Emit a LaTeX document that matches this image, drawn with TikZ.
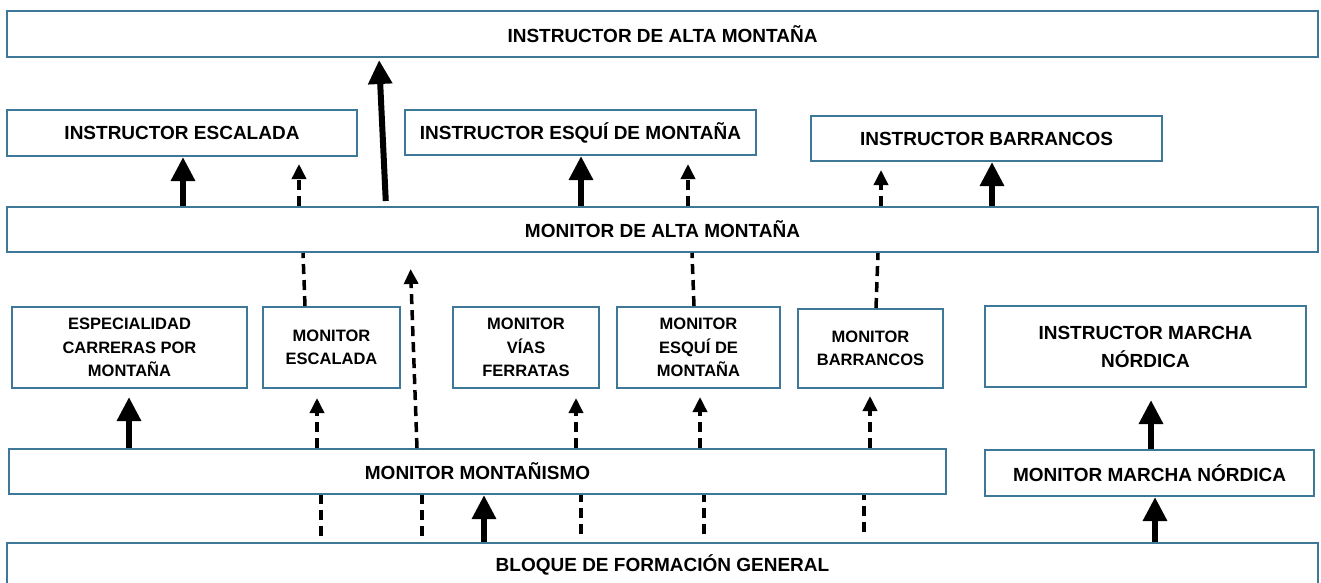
\documentclass[tikz,border=0pt]{standalone}
\usepackage{fontspec}
\setmainfont{Liberation Sans}
\usetikzlibrary{arrows.meta}
\definecolor{boxblue}{RGB}{62,120,152}
\newcommand\bigtxt{\fontsize{19}{28}\selectfont\bfseries}
\newcommand\smalltxt{\fontsize{16.5}{23.3}\selectfont\bfseries}
\begin{document}
\begin{tikzpicture}[
        x=1pt, y=-1pt,
        box/.style={draw=boxblue, line width=2pt, fill=white, inner sep=0pt, align=center, font=\bigtxt},
        small/.style={font=\smalltxt},
        fullarrow/.style={draw, line width=6pt, -{Triangle[width=23pt,length=24pt]}},
        dasharrow/.style={draw, line width=3.5pt, dash pattern=on 10pt off 6pt, -{Triangle[width=14pt,length=15pt]}},
        dashlink/.style={draw, line width=3.5pt, dash pattern=on 10pt off 6pt}
        ]
    \useasboundingbox (0,0) rectangle (1321,582);
    % top levels
    \node[box, minimum width=1311, minimum height=46] (iam) at (662.5,34) {INSTRUCTOR DE ALTA MONTAÑA};
    \node[box, minimum width=350, minimum height=46] (iesc) at (182,133) {INSTRUCTOR ESCALADA};
    \node[box, minimum width=351, minimum height=45] (iesq) at (580.5,132.5) {INSTRUCTOR ESQUÍ DE MONTAÑA};
    \node[box, minimum width=351, minimum height=45] (ibar) at (986.5,138.5) {INSTRUCTOR BARRANCOS};
    \node[box, minimum width=1311, minimum height=45] (mam) at (662.5,229.5) {MONITOR DE ALTA MONTAÑA};
    % specialities
    \node[box, small, minimum width=235, minimum height=81] (ecm) at (129.5,347.5) {ESPECIALIDAD\\CARRERAS POR\\MONTAÑA};
    \node[box, small, minimum width=137, minimum height=81] (mesc) at (331.5,347.5) {MONITOR\\ESCALADA};
    \node[box, small, minimum width=146, minimum height=81] (mvf) at (526,347.5) {MONITOR\\VÍAS\\FERRATAS};
    \node[box, small, minimum width=163, minimum height=81] (mesq) at (698.5,347.5) {MONITOR\\ESQUÍ DE\\MONTAÑA};
    \node[box, small, minimum width=145, minimum height=79] (mbar) at (870.5,348.5) {MONITOR\\BARRANCOS};
    \node[box, minimum width=321, minimum height=81] (imn) at (1145.5,346.5) {INSTRUCTOR MARCHA\\NÓRDICA};
    % base levels
    \node[box, minimum width=937, minimum height=45] (mmo) at (477.5,471.5) {MONITOR MONTAÑISMO};
    \node[box, minimum width=329, minimum height=46] (mmn) at (1149.5,473) {MONITOR MARCHA NÓRDICA};
    \node[box, minimum width=1311, minimum height=44] (bfg) at (662.5,565) {BLOQUE DE FORMACIÓN GENERAL};

    % monitor de alta montana -> instructors
    \path[fullarrow] (183,0 |- mam.north) -- (183,0 |- iesc.south);
    \path[dasharrow, shorten >=7pt] (299,0 |- mam.north) -- (299,0 |- iesc.south);
    \path[fullarrow, shorten <=5pt, shorten >=2pt] (386,0 |- mam.north) -- (379,0 |- iam.south);
    \path[fullarrow] (581,0 |- mam.north) -- (581,0 |- iesq.south);
    \path[dasharrow, shorten >=8pt] (688,0 |- mam.north) -- (688,0 |- iesq.south);
    \path[dasharrow, shorten >=8pt] (881,0 |- mam.north) -- (881,0 |- ibar.south);
    \path[fullarrow] (992,0 |- mam.north) -- (992,0 |- ibar.south);

    % specialities -> monitor de alta montana
    \path[dashlink] (305,0 |- mesc.north) -- (303,0 |- mam.south);
    \path[dashlink] (694,0 |- mesq.north) -- (692,0 |- mam.south);
    \path[dashlink] (876,0 |- mbar.north) -- (878,0 |- mam.south);
    \path[dasharrow, shorten >=16pt] (417,0 |- mmo.north) -- (410,0 |- mam.south);

    % monitor montanismo -> specialities
    \path[fullarrow, shorten >=8pt] (129,0 |- mmo.north) -- (129,0 |- ecm.south);
    \path[dasharrow, shorten >=9pt] (317,0 |- mmo.north) -- (317,0 |- mesc.south);
    \path[dasharrow, shorten >=9pt] (576,0 |- mmo.north) -- (576,0 |- mvf.south);
    \path[dasharrow, shorten >=8pt] (700,0 |- mmo.north) -- (700,0 |- mesq.south);
    \path[dasharrow, shorten >=7pt] (870,0 |- mmo.north) -- (870,0 |- mbar.south);
    \path[fullarrow, shorten >=12pt] (1151,0 |- mmn.north) -- (1151,0 |- imn.south);

    % bloque general -> base levels
    \path[dashlink, shorten <=6pt] (321,0 |- bfg.north) -- (321,0 |- mmo.south);
    \path[dashlink, shorten <=6pt] (422,0 |- bfg.north) -- (422,0 |- mmo.south);
    \path[fullarrow] (484,0 |- bfg.north) -- (484,0 |- mmo.south);
    \path[dashlink, shorten <=8pt] (581,0 |- bfg.north) -- (581,0 |- mmo.south);
    \path[dashlink, shorten <=8pt] (704,0 |- bfg.north) -- (704,0 |- mmo.south);
    \path[dashlink, shorten <=10pt] (864,0 |- bfg.north) -- (864,0 |- mmo.south);
    \path[fullarrow] (1155,0 |- bfg.north) -- (1155,0 |- mmn.south);
\end{tikzpicture}
\end{document}
